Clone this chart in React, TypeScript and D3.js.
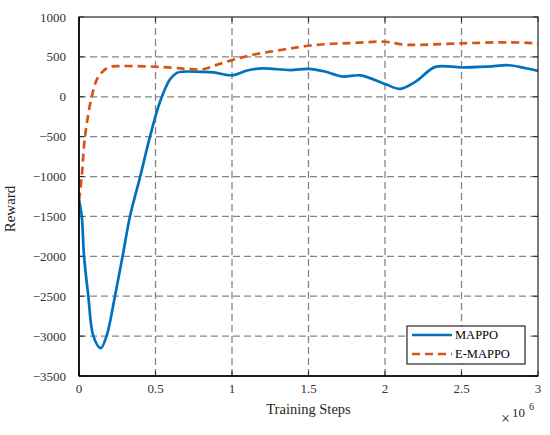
import React, { useEffect } from "react";
import * as d3 from "d3";

// training steps in units of 1e6
const mappoSteps = [0, 0.018, 0.033, 0.061, 0.094, 0.142, 0.18, 0.235, 0.285, 0.333, 0.4, 0.464, 0.53, 0.595, 0.64, 0.68, 0.79, 0.88, 1.0, 1.1, 1.2, 1.38, 1.5, 1.6, 1.72, 1.84, 2.0, 2.1, 2.2, 2.33, 2.5, 2.675, 2.81, 2.92, 3.0];
const mappoReward = [-1290, -1500, -2000, -2500, -3000, -3150, -3000, -2500, -2000, -1500, -1000, -500, -60, 220, 300, 315, 312, 305, 270, 330, 355, 335, 350, 320, 254, 268, 160, 100, 190, 375, 367, 379, 395, 358, 325];

const emappoSteps = [0, 0.018, 0.039, 0.083, 0.12, 0.157, 0.2, 0.27, 0.46, 0.6, 0.7, 0.81, 0.9, 1.0, 1.12, 1.34, 1.5, 1.66, 1.8, 2.0, 2.12, 2.2, 2.5, 2.81, 3.0];
const emappoReward = [-1300, -1000, -500, 0, 230, 320, 375, 385, 380, 365, 350, 345, 400, 460, 520, 593, 640, 665, 675, 690, 655, 650, 670, 683, 670];

const xTicks = [0, 0.5, 1, 1.5, 2, 2.5, 3];
const yTicks = [1000, 500, 0, -500, -1000, -1500, -2000, -2500, -3000, -3500];

const W = 550;
const H = 435;
const margin = { top: 17, right: 12, bottom: 59, left: 79 };
const font = "'Liberation Serif', 'Times New Roman', serif";
const textColor = "#262626";

export default function App() {
  useEffect(() => {
    document.body.style.margin = "0";
  }, []);

  const x = d3.scaleLinear().domain([0, 3]).range([margin.left, W - margin.right]);
  const y = d3.scaleLinear().domain([-3500, 1000]).range([H - margin.bottom, margin.top]);

  const line = d3
    .line<[number, number]>()
    .x((d) => x(d[0]))
    .y((d) => y(d[1]))
    .curve(d3.curveCatmullRom.alpha(0.5));

  const mappo = mappoSteps.map((s, i) => [s, mappoReward[i]] as [number, number]);
  const emappo = emappoSteps.map((s, i) => [s, emappoReward[i]] as [number, number]);

  const x0 = x(0), x1 = x(3), y0 = y(-3500), y1 = y(1000);
  const tick = 5;
  const fmt = (v: number) => (v < 0 ? "\u2212" + Math.abs(v) : String(v));

  const lg = { x: 407, y: 326, w: 118, h: 38 };

  return (
    <svg width={W} height={H} style={{ display: "block", background: "#fff" }}>
      <defs>
        <clipPath id="plot">
          <rect x={x0} y={y1} width={x1 - x0} height={y0 - y1} />
        </clipPath>
      </defs>
      {/* grid */}
      <g stroke="#858585" strokeWidth={1.3} strokeDasharray="7,4" fill="none">
        {xTicks.slice(1, -1).map((t) => (
          <line key={"gx" + t} x1={x(t)} x2={x(t)} y1={y0} y2={y1} />
        ))}
        {yTicks.slice(1, -1).map((t) => (
          <line key={"gy" + t} x1={x0} x2={x1} y1={y(t)} y2={y(t)} />
        ))}
      </g>
      {/* inner ticks */}
      <g stroke={textColor} strokeWidth={1}>
        {xTicks.map((t) => (
          <g key={"tx" + t}>
            <line x1={x(t)} x2={x(t)} y1={y0} y2={y0 - tick} />
            <line x1={x(t)} x2={x(t)} y1={y1} y2={y1 + tick} />
          </g>
        ))}
        {yTicks.map((t) => (
          <g key={"ty" + t}>
            <line x1={x0} x2={x0 + tick} y1={y(t)} y2={y(t)} />
            <line x1={x1} x2={x1 - tick} y1={y(t)} y2={y(t)} />
          </g>
        ))}
      </g>
      {/* series */}
      <g clipPath="url(#plot)" fill="none" strokeLinejoin="round">
        <path d={line(mappo) || ""} stroke="#0072BD" strokeWidth={2.7} />
        <path d={line(emappo) || ""} stroke="#D95319" strokeWidth={2.7} strokeDasharray="8,5" />
      </g>
      {/* box */}
      <rect x={x0} y={y1} width={x1 - x0} height={y0 - y1} fill="none" stroke={textColor} strokeWidth={1.2} />
      <line x1={x0} x2={x0} y1={y1} y2={y0} stroke="#000" strokeWidth={1.6} />
      <line x1={x0} x2={x1} y1={y0} y2={y0} stroke="#000" strokeWidth={1.6} />
      {/* tick labels */}
      <g fontFamily={font} fontSize={13} fill="#333">
        {yTicks.map((t) => (
          <text key={"ly" + t} x={x0 - 13} y={y(t)} dy="0.35em" textAnchor="end">
            {fmt(t)}
          </text>
        ))}
        {xTicks.map((t) => (
          <text key={"lx" + t} x={x(t)} y={y0 + 17} textAnchor="middle">
            {t}
          </text>
        ))}
      </g>
      {/* axis titles */}
      <text x={x(1.5)} y={414} textAnchor="middle" fontFamily={font} fontSize={14.5} fill={textColor}>
        Training Steps
      </text>
      <text transform={`translate(15,209) rotate(-90)`} textAnchor="middle" fontFamily={font} fontSize={15} fill={textColor}>
        Reward
      </text>
      <g fontFamily={font} fill={textColor}>
        <text x={501} y={424} fontSize={16}>{"\u00d7"}</text>
        <text x={512} y={417} fontSize={13}>10</text>
        <text x={529} y={410} fontSize={10}>6</text>
      </g>
      {/* legend */}
      <g>
        <rect x={lg.x} y={lg.y} width={lg.w} height={lg.h} fill="#fff" stroke={textColor} strokeWidth={1.2} />
        <line x1={lg.x + 5} x2={lg.x + 45} y1={lg.y + 9} y2={lg.y + 9} stroke="#0072BD" strokeWidth={2.7} />
        <line x1={lg.x + 5} x2={lg.x + 45} y1={lg.y + 28} y2={lg.y + 28} stroke="#D95319" strokeWidth={2.7} strokeDasharray="8,5" />
        <text x={lg.x + 48} y={lg.y + 9} dy="0.35em" fontFamily={font} fontSize={12.5} fill="#000">MAPPO</text>
        <text x={lg.x + 48} y={lg.y + 28} dy="0.35em" fontFamily={font} fontSize={12.5} fill="#000">E-MAPPO</text>
      </g>
    </svg>
  );
}
